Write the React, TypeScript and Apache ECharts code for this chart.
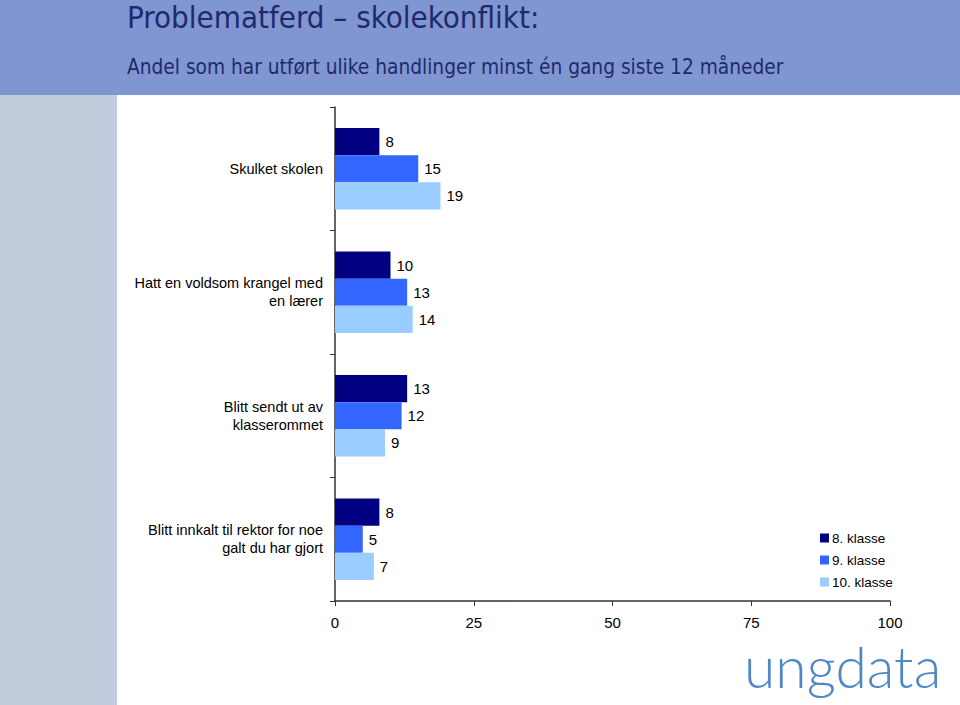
import React, { useEffect, useRef } from "react";
import * as echarts from "echarts";

const categories = [
  "Skulket skolen",
  "Hatt en voldsom krangel med\nen lærer",
  "Blitt sendt ut av\nklasserommet",
  "Blitt innkalt til rektor for noe\ngalt du har gjort",
];
const seriesNames = ["8. klasse", "9. klasse", "10. klasse"];
const grade8 = [8, 10, 13, 8];
const grade9 = [15, 13, 12, 5];
const grade10 = [19, 14, 9, 7];
const xTicks = [0, 25, 50, 75, 100];
const colors = ["#000080", "#3366FF", "#99CCFF"];

export default function App() {
  const ref = useRef<HTMLDivElement>(null);
  useEffect(() => {
    document.body.style.margin = "0";
    const chart = echarts.init(ref.current!, null, { renderer: "svg" });
    const values = [grade8, grade9, grade10];
    const font = "'Liberation Sans', Arial, sans-serif";
    chart.setOption({
      animation: false,
      backgroundColor: "#ffffff",
      graphic: [
        { type: "rect", left: 0, top: 0, z: -10, shape: { width: 960, height: 95 }, style: { fill: "#8096D0" } },
        { type: "rect", left: 0, top: 95, z: -10, shape: { width: 117, height: 610 }, style: { fill: "#C2CCDD" } },
        {
          type: "text", left: 127, top: 1,
          style: { text: "Problematferd – skolekonflikt:", font: "31px 'DejaVu Sans Condensed', 'DejaVu Sans', sans-serif", fill: "#1F2A6E" },
        },
        {
          type: "text", left: 127, top: 56,
          style: { text: "Andel som har utført ulike handlinger minst én gang siste 12 måneder", font: "20.7px 'DejaVu Sans Condensed', 'DejaVu Sans', sans-serif", fill: "#1F2A6E" },
        },
        {
          type: "text", left: 744, top: 637,
          style: { text: "ungdata", font: "300 57px 'Lato', sans-serif", fill: "#4F88C6" },
        },
      ],
      legend: {
        orient: "vertical",
        left: 815,
        top: 526,
        itemWidth: 9,
        itemHeight: 9,
        itemGap: 8,
        icon: "rect",
        textStyle: { fontFamily: font, fontSize: 13.5, color: "#000", padding: [0, 0, 0, -2] },
        data: seriesNames,
      },
      grid: { left: 335, right: 70, top: 107, bottom: 104, containLabel: false },
      xAxis: {
        type: "value",
        min: 0,
        max: 100,
        interval: 25,
        axisLine: { show: true, lineStyle: { color: "#333", width: 1.5 } },
        axisTick: { show: true, length: 5, lineStyle: { color: "#333" } },
        splitLine: { show: false },
        axisLabel: {
          fontFamily: font, fontSize: 15, color: "#000", margin: 14,
          formatter: (v: number) => (xTicks.includes(v) ? String(v) : ""),
        },
      },
      yAxis: {
        type: "category",
        data: categories,
        inverse: true,
        axisLine: { show: true, lineStyle: { color: "#333", width: 1.5 } },
        axisTick: { show: true, length: 5, lineStyle: { color: "#333" } },
        axisLabel: { fontFamily: font, fontSize: 14.5, color: "#000", margin: 12, lineHeight: 18, align: "right" },
      },
      series: seriesNames.map((name, i) => ({
        name,
        type: "bar",
        data: values[i],
        barGap: "0%",
        barCategoryGap: "34%",
        itemStyle: { color: colors[i] },
        label: { show: true, position: "right", distance: 6, fontFamily: font, fontSize: 15, color: "#000" },
      })),
    });
    return () => chart.dispose();
  }, []);
  return <div ref={ref} style={{ width: 960, height: 705 }} />;
}
